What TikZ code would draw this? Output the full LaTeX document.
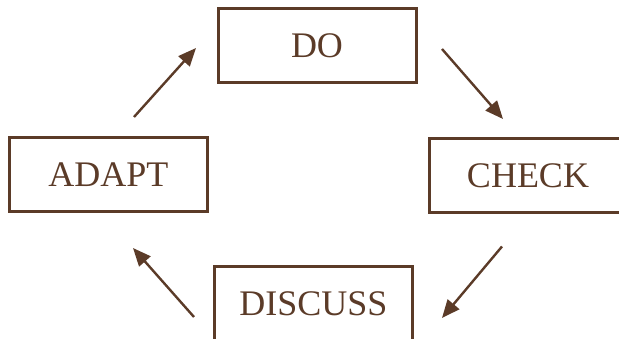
\documentclass[tikz,border=0pt]{standalone}
\usepackage{fontspec}
\setmainfont{Liberation Serif}
\usetikzlibrary{arrows.meta}
\definecolor{brownline}{HTML}{5B3B28}

\begin{document}
\begin{tikzpicture}[x=1pt,y=1pt,
    stage/.style = {draw=brownline, line width=3pt, minimum width=198pt, minimum height=74pt, inner sep=0pt, text=brownline, font=\fontsize{36}{40}\selectfont},
    flow/.style = {draw=brownline, line width=2.4pt, -{Triangle[length=18pt,width=15pt]}}]
        \useasboundingbox (0,0) rectangle (619,339);
        \node[stage] (do) at (317,293) {DO};
        \node[stage] (check) at (528,163.5) {CHECK};
        \node[stage] (discuss) at (313.5,35.5) {DISCUSS};
        \node[stage] (adapt) at (108.5,164) {ADAPT};
        \draw[flow] ([shift={(25.5,58)}]adapt.center) -- ([shift={(-121,-2)}]do.center);
        \draw[flow] ([shift={(125,-3)}]do.center) -- ([shift={(-25,56.5)}]check.center);
        \draw[flow] ([shift={(-26,-71)}]check.center) -- ([shift={(128.5,-14.5)}]discuss.center);
        \draw[flow] ([shift={(-119.5,-13.5)}]discuss.center) -- ([shift={(24.5,-73)}]adapt.center);
\end{tikzpicture}
\end{document}
